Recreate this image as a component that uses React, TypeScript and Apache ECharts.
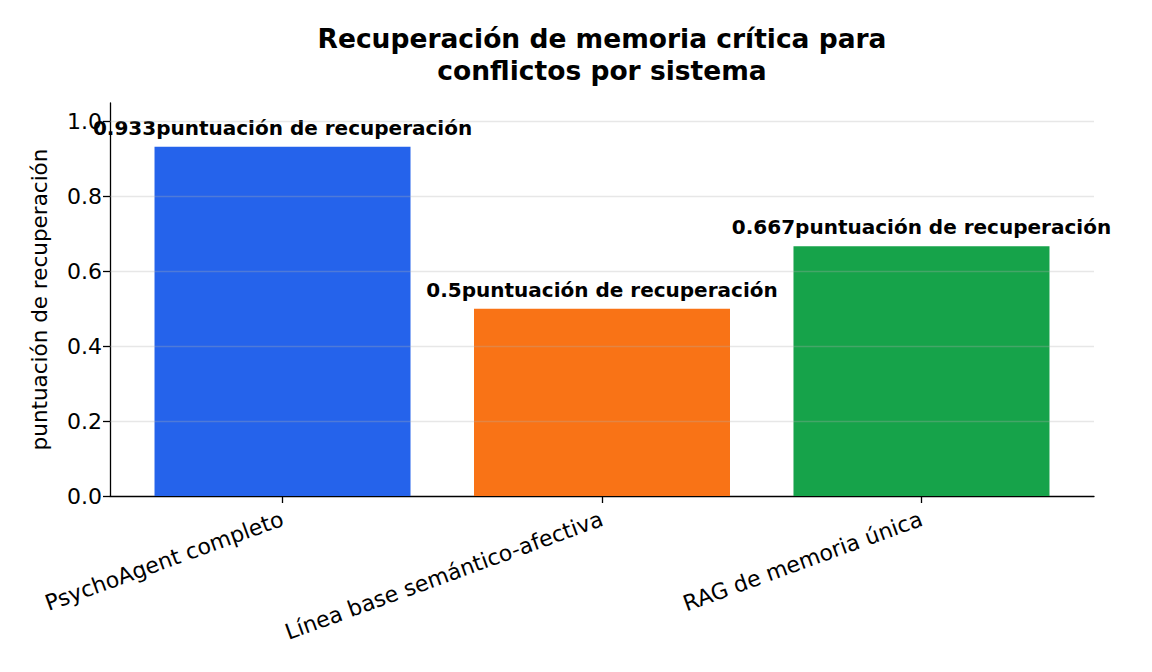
import { useEffect, useRef } from "react";
import * as echarts from "echarts";

const categories = [
  "PsychoAgent completo",
  "Línea base semántico-afectiva",
  "RAG de memoria única",
];
const scores = [0.933, 0.5, 0.667];
const barColors = ["#2563eb", "#f97316", "#16a34a"];
const yTicks = [0, 0.2, 0.4, 0.6, 0.8, 1.0];
const labelSuffix = "puntuación de recuperación";
const yAxisName = "puntuación de recuperación";
const titleText = "Recuperación de memoria crítica para\nconflictos por sistema";

const FONT = "DejaVu Sans";

export default function App() {
  const chartRef = useRef<HTMLDivElement>(null);

  useEffect(() => {
    document.body.style.margin = "0";
    if (!chartRef.current) return;
    const chart = echarts.init(chartRef.current, null, { renderer: "svg" });

    const option: echarts.EChartsOption = {
      animation: false,
      textStyle: { fontFamily: FONT },
      graphic: [
        {
          type: "text",
          x: 602,
          y: 22,
          style: {
            text: titleText,
            font: `bold 26.5px '${FONT}'`,
            fill: "#000",
            align: "center",
            lineHeight: 32,
          },
        },
      ],
      grid: { left: 110, right: 58, top: 103, bottom: 176 },
      xAxis: {
        type: "value",
        min: -0.54,
        max: 2.54,
        axisLine: { show: true, onZero: false, lineStyle: { color: "#000", width: 1.3 } },
        axisTick: {
          show: true,
          customValues: [0, 1, 2],
          length: 7,
          lineStyle: { color: "#000", width: 1.3 },
        },
        axisLabel: {
          customValues: [0, 1, 2],
          formatter: (v: number) => categories[Math.round(v)] ?? "",
          rotate: 20,
          fontSize: 22,
          color: "#000",
          fontFamily: FONT,
          margin: 22,
        },
        splitLine: { show: false },
      },
      yAxis: {
        type: "value",
        min: 0,
        max: 1.05,
        name: yAxisName,
        nameLocation: "middle",
        nameGap: 60,
        nameTextStyle: { fontSize: 21.5, color: "#000", fontFamily: FONT },
        axisLine: { show: true, onZero: false, lineStyle: { color: "#000", width: 1.3 } },
        axisTick: {
          show: true,
          customValues: yTicks,
          length: 7,
          lineStyle: { color: "#000", width: 1.3 },
        },
        axisLabel: {
          customValues: yTicks,
          formatter: (v: number) => v.toFixed(1),
          fontSize: 22,
          color: "#000",
          fontFamily: FONT,
          margin: 8,
        },
        splitLine: { show: false },
      },
      series: [
        {
          type: "bar",
          barWidth: 256,
          data: scores.map((s, i) => ({
            value: [i, s],
            itemStyle: { color: barColors[i] },
          })),
          label: {
            show: true,
            position: "top",
            distance: 9,
            fontSize: 20,
            fontWeight: "bold",
            color: "#000",
            fontFamily: FONT,
            formatter: (p: any) => `${p.value[1]}${labelSuffix}`,
          },
          markLine: {
            silent: true,
            symbol: "none",
            label: { show: false },
            lineStyle: { color: "rgba(176,176,176,0.3)", width: 1.3, type: "solid" },
            data: yTicks.filter((t) => t > 0).map((t) => ({ yAxis: t })),
          },
        },
      ],
    };

    chart.setOption(option);
    return () => chart.dispose();
  }, []);

  return <div ref={chartRef} style={{ width: 1152, height: 672 }} />;
}
